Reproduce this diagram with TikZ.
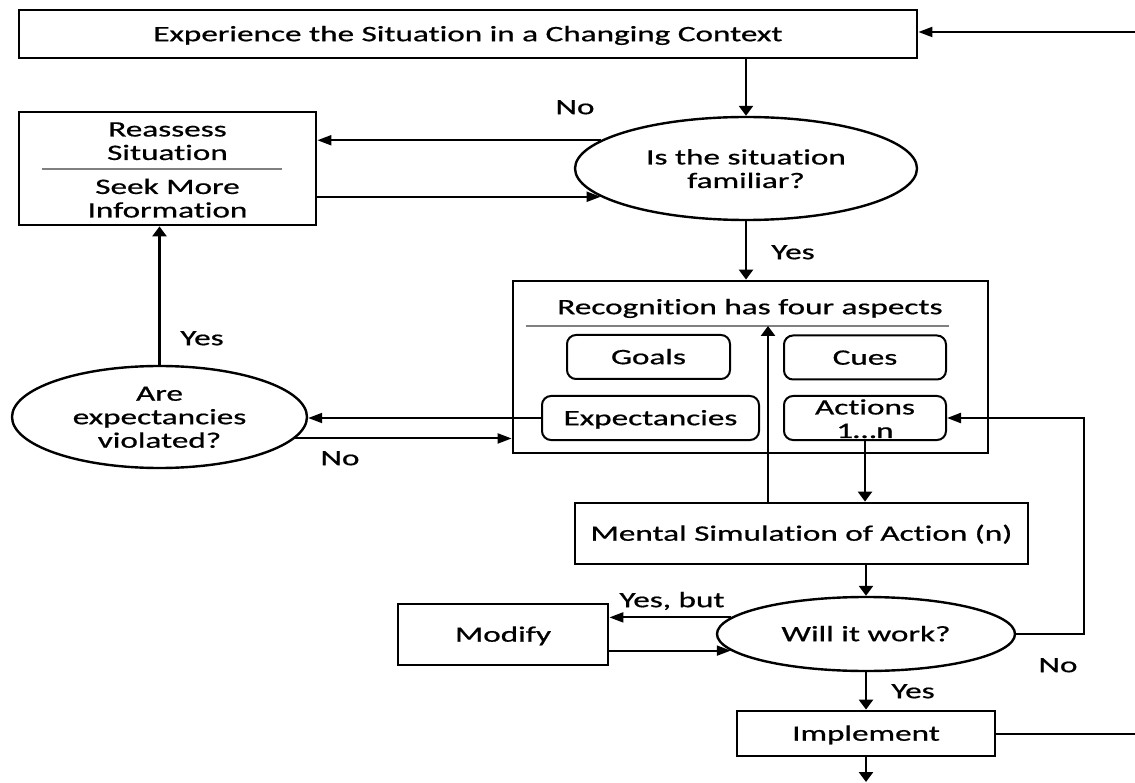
\documentclass[tikz,border=0pt]{standalone}
\usepackage{fontspec}
\setmainfont{Carlito}[Ligatures={NoCommon},FakeBold=0.6]
\usepackage{graphicx}
\usetikzlibrary{arrows.meta,shapes.geometric}
\newlength\reflen
\AtBeginDocument{%
  \settowidth\reflen{\fontsize{22}{23.5}\selectfont Mental Simulation of Action (n)}%
  \pgfmathsetmacro\xs{422/\reflen}%
  \xdef\xs{\xs}}
\newcommand\tx[1]{\raisebox{0pt}[\height][\dimexpr\depth-5pt\relax]{\scalebox{\xs}[1]{\begin{tabular}{@{}c@{}}#1\end{tabular}}}}
\begin{document}
\begin{tikzpicture}[x=1pt,y=-1pt,
  font=\fontsize{22}{23.5}\selectfont,
  box/.style={draw, line width=2.8pt, rectangle, inner sep=0pt},
  rbox/.style={draw, line width=2pt, rectangle, rounded corners=9pt, inner sep=0pt},
  ell/.style={draw, line width=2.4pt, ellipse, inner sep=0pt},
  txt/.style={inner sep=0pt},
  conn/.style={line width=2.2pt},
  harr/.style={line width=2pt, -{Triangle[length=14pt,width=10pt]}},
  varr/.style={line width=2.6pt, -{Triangle[length=10pt,width=14pt]}},
  sepline/.style={line width=1.2pt, draw=black!50}]
\useasboundingbox (0,0) rectangle (1135,783);

% nodes
\node[box, minimum width=898, minimum height=48] (top) at (468,34) {\tx{Experience the Situation in a Changing Context}};
\node[ell, minimum width=342, minimum height=103] (fam) at (746,168.5) {};
\node[txt] (famtxt) at (746,169) {\tx{Is the situation\\familiar?}};
\node[box, minimum width=297, minimum height=113] (reassess) at (167.5,168.5) {};
\node[txt] (reassessA) at (167.5,141) {\tx{Reassess\\Situation}};
\node[txt] (reassessB) at (167.5,198.5) {\tx{Seek More\\Information}};
\coordinate (rsL) at (42,169);
\coordinate (rsR) at (282,169);
\draw[sepline] (rsL) -- (rsR);

\node[box, minimum width=475, minimum height=172] (recog) at (750.5,367) {};
\node[txt] (recogtxt) at (750,307) {\tx{Recognition has four aspects}};
\coordinate (sepL) at (526,326);
\coordinate (sepR) at (949,326);
\coordinate (sepmid) at (768,326);
\draw[sepline] (sepL) -- (sepR);
\node[rbox, minimum width=163, minimum height=44] (goals) at (648.5,357) {\tx{Goals}};
\node[rbox, minimum width=162, minimum height=44] (cues) at (865,357.5) {\tx{Cues}};
\node[rbox, minimum width=217, minimum height=44] (expect) at (650.5,418) {\tx{Expectancies}};
\node[rbox, minimum width=162, minimum height=44] (actions) at (865,418) {};
\node[txt] (actionstxt) at (865,419) {\tx{Actions\\1\ldots n}};

\node[ell, minimum width=295, minimum height=102] (expv) at (159.5,417) {};
\node[txt] (expvtxt) at (159.5,417) {\tx{Are\\expectancies\\violated?}};

\node[box, minimum width=453, minimum height=61] (mental) at (801.5,533.5) {\tx{Mental Simulation of Action (n)}};
\node[ell, minimum width=298, minimum height=74] (will) at (866,634) {};
\node[txt] (willtxt) at (866,634) {\tx{Will it work?}};
\node[box, minimum width=210, minimum height=61] (modify) at (503,634.5) {\tx{Modify}};
\node[box, minimum width=258, minimum height=45] (impl) at (866,733.5) {\tx{Implement}};

% free ends
\coordinate (rt) at (1137,32);
\coordinate (rc) at (1084,520);
\coordinate (out) at (866,782);

% connectors
\draw[harr] (rt) -- (rt -| top.east);
\draw[varr] (fam.north |- top.south) -- (fam.north);
\draw[harr] (fam.169) -- (fam.169 -| reassess.east);
\draw[harr] (fam.191 -| reassess.east) -- (fam.191);
\draw[varr] (fam.south) -- (fam.south |- recog.north);
\draw[varr] (expv.north) -- (expv.north |- reassess.south);
\draw[harr] (expect.west) -- (expect.west -| expv.east);
\draw[harr] (expv.351) -- (expv.351 -| recog.west);
\draw[varr] (actions.south) -- (actions.south |- mental.north);
\draw[varr] (sepmid |- mental.north) -- (sepmid);
\draw[varr] (will.north |- mental.south) -- (will.north);
\draw[harr] (will.173) -- (will.173 -| modify.east);
\draw[harr] (will.187 -| modify.east) -- (will.187);
\draw[harr, line width=2.3pt] (will.east) -| (rc) |- (actions.east);
\draw[varr] (will.south) -- (impl.north);
\draw[harr, -] (impl.east) -- (impl.east -| rt);
\draw[varr] (impl.south) -- (out);

% labels
\node[txt] (lno1) at (575,107) {\tx{No}};
\node[txt] (lyes1) at (793,252) {\tx{Yes}};
\node[txt] (lyes2) at (202,338) {\tx{Yes}};
\node[txt] (lno2) at (340,458) {\tx{No}};
\node[txt] (lyesbut) at (672,600) {\tx{Yes, but}};
\node[txt] (lno3) at (1058,665) {\tx{No}};
\node[txt] (lyes3) at (913,691) {\tx{Yes}};
\end{tikzpicture}
\end{document}
